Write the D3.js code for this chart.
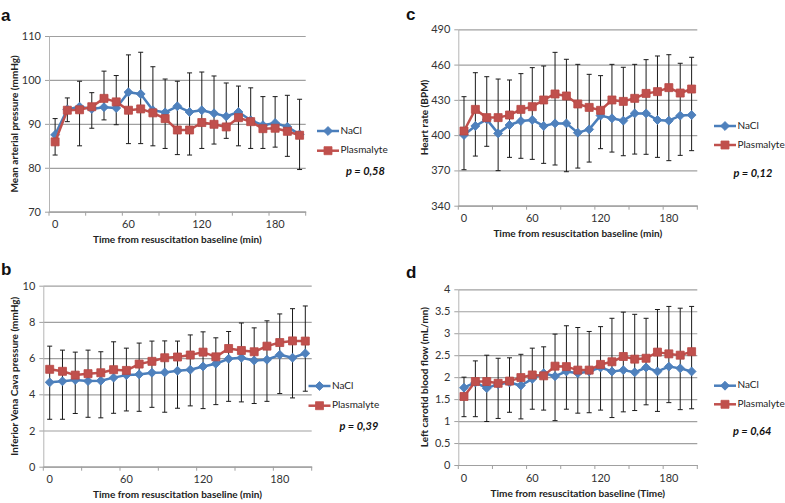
<!DOCTYPE html>
<html><head><meta charset="utf-8">
<script src="https://cdn.jsdelivr.net/npm/d3@7/dist/d3.min.js"></script>
<style>
html,body{margin:0;padding:0;background:#fff;}
svg{display:block;}
text{font-family:Lato,'Open Sans',sans-serif;}
</style></head><body>
<svg id="chart" width="785" height="503"></svg>
<script>
// ---- categories / ticks ----
const times = [0,10,20,30,40,50,60,70,80,90,100,110,120,130,140,150,160,170,180,190,200];
const xLabelTimes = [0,60,120,180];
const xTickTimes = [0,30,60,90,120,150,180];
const seriesNames = ["NaCl","Plasmalyte"];

// ---- panel a: mean arterial pressure ----
const mapNaCl   = [87.5,93.3,93.9,93.4,93.8,93.6,97.2,96.8,93.1,92.6,94.0,92.7,93.1,92.4,91.7,92.7,90.8,89.7,90.2,89.3,87.6];
const mapPlasma = [85.9,93.1,93.2,93.9,95.8,95.0,93.1,93.4,92.5,91.2,88.6,88.6,90.3,89.9,89.3,91.4,90.5,88.9,89.0,88.3,87.4];
const mapErrHigh= [91.2,95.9,99.7,97.1,102.0,101.0,105.7,106.3,103.0,100.2,99.7,101.6,101.8,100.9,99.3,98.6,98.2,96.2,96.2,96.5,95.6];
const mapErrLow = [82.9,90.5,85.0,89.0,90.9,89.8,85.5,85.5,85.0,84.4,83.0,82.9,84.4,85.4,86.7,85.0,84.4,84.4,84.7,82.6,79.6];
const mapTicks  = [70,80,90,100,110];

// ---- panel b: inferior vena cava pressure ----
const ivcNaCl   = [4.66,4.72,4.79,4.73,4.75,4.92,5.06,5.10,5.19,5.21,5.30,5.36,5.54,5.69,5.96,6.02,5.87,5.91,6.18,6.02,6.26];
const ivcPlasma = [5.38,5.27,5.06,5.14,5.19,5.36,5.32,5.67,5.82,6.02,6.06,6.17,6.33,6.07,6.53,6.42,6.35,6.66,6.86,6.95,6.94];
const ivcErrHigh= [6.66,6.44,6.33,6.44,6.35,6.90,6.55,6.83,6.94,6.95,6.94,7.28,7.45,7.12,7.47,7.94,7.67,8.06,8.44,8.73,8.88];
const ivcErrLow = [2.62,2.62,2.94,2.73,2.70,2.95,3.08,3.06,3.28,3.01,3.23,3.36,3.21,3.43,3.61,3.58,3.49,3.61,4.04,3.80,4.17];
const ivcTicks  = [0,2,4,6,8,10];

// ---- panel c: heart rate ----
const hrNaCl    = [400.1,407.8,413.4,401.5,408.6,412.0,412.9,407.8,410.0,410.0,402.1,404.9,416.6,414.3,412.3,418.5,418.5,412.9,412.3,416.6,417.1];
const hrPlasma  = [403.5,421.9,414.9,414.9,417.1,421.9,424.2,429.9,435.0,433.3,426.5,423.6,421.1,429.9,428.7,431.3,435.5,437.0,440.4,435.8,439.2];
const hrErrHigh = [432.7,453.1,449.7,447.7,446.9,452.3,457.4,458.8,470.4,464.5,460.2,451.7,450.6,460.2,457.7,460.2,464.2,467.3,468.4,461.1,466.2];
const hrErrLow  = [370.6,382.2,390.5,369.8,381.1,380.3,379.4,376.0,374.6,368.9,372.0,377.1,388.5,385.6,382.5,383.9,383.7,381.1,378.3,382.8,386.8];
const hrTicks   = [340,370,400,430,460,490];

// ---- panel d: left carotid blood flow ----
const cbfNaCl   = [1.76,1.88,1.75,1.84,1.88,1.81,1.96,2.09,2.02,2.13,2.09,2.13,2.22,2.13,2.16,2.11,2.22,2.13,2.24,2.20,2.13];
const cbfPlasma = [1.56,1.90,1.90,1.86,1.91,1.99,2.05,2.03,2.25,2.24,2.16,2.16,2.29,2.35,2.47,2.41,2.43,2.57,2.53,2.50,2.58];
const cbfErrHigh= [2.00,2.37,2.50,2.43,2.44,2.52,2.66,2.69,2.98,3.17,3.13,3.04,3.15,3.34,3.48,3.43,3.34,3.54,3.61,3.57,3.61];
const cbfErrLow = [1.10,1.10,0.99,1.06,1.20,1.05,1.27,1.25,1.01,1.27,1.18,1.19,1.25,1.08,1.21,1.24,1.37,1.22,1.42,1.26,1.28];
const cbfTicks  = [0,0.5,1,1.5,2,2.5,3,3.5,4];

const BLUE = "#4a7ebb", BLUE_M = "#4f81bd";
const RED = "#c0504d", RED_M = "#c0504d";

const svg = d3.select("#chart");

const panels = [
  {letter:"a", lx:1, ly:21, x0:49, x1:305.7, yTop:36, yBot:211.7, domain:[70,110], ticks:mapTicks,
   a:mapNaCl, b:mapPlasma, hi:mapErrHigh, lo:mapErrLow, ytitle:"Mean arterial pressure (mmHg)", ytx:15,
   xtitle:"Time from resuscitation baseline (min)", leg:{x:317, y1:131, y2:150.7}, p:{x:346, y:172, t:"p = 0,58"}},
  {letter:"b", lx:1, ly:275, x0:43.3, x1:311.7, yTop:285.7, yBot:466.7, domain:[0,10], ticks:ivcTicks,
   a:ivcNaCl, b:ivcPlasma, hi:ivcErrHigh, lo:ivcErrLow, ytitle:"Inferior Vena Cava pressure (mmHg)", ytx:15,
   xtitle:"Time from resuscitation baseline (min)", leg:{x:308.5, y1:386, y2:405.7}, p:{x:339.5, y:427.5, t:"p = 0,39"}},
  {letter:"c", lx:406, ly:20, x0:458.3, x1:697.3, yTop:29.3, yBot:205.7, domain:[340,490], ticks:hrTicks,
   a:hrNaCl, b:hrPlasma, hi:hrErrHigh, lo:hrErrLow, ytitle:"Heart rate (BPM)", ytx:425,
   xtitle:"Time from resuscitation baseline (min)", leg:{x:714, y1:126, y2:145}, p:{x:733.5, y:174.5, t:"p = 0,12"}},
  {letter:"d", lx:406, ly:278, x0:458.3, x1:697.3, yTop:289.3, yBot:465, domain:[0,4], ticks:cbfTicks,
   a:cbfNaCl, b:cbfPlasma, hi:cbfErrHigh, lo:cbfErrLow, ytitle:"Left carotid blood flow (mL/mn)", ytx:425,
   xtitle:"Time from resuscitation baseline (Time)", leg:{x:714, y1:385.7, y2:404.3}, p:{x:733, y:432.5, t:"p = 0,64"}}
];

const diamond = d3.symbol().type(d3.symbolSquare).size(40)();
const square = d3.symbol().type(d3.symbolSquare).size(64)();

function drawPanel(p){
  const g = svg.append("g");
  const x = d3.scaleBand().domain(times).range([p.x0, p.x1]).padding(0);
  const bw = x.bandwidth();
  const cx = t => x(t) + bw/2;
  const y = d3.scaleLinear().domain(p.domain).range([p.yBot, p.yTop]);
  const w = p.x1 - p.x0;

  // gridlines
  g.append("g").attr("transform", `translate(${p.x0},0)`)
    .call(d3.axisLeft(y).tickValues(p.ticks).tickSize(-w).tickFormat(""))
    .call(s => { s.select(".domain").remove();
      s.selectAll(".tick line").attr("stroke","#a0a0a0").attr("stroke-width",1.2); });

  // y axis
  g.append("g").attr("transform", `translate(${p.x0},0)`)
    .call(d3.axisLeft(y).tickValues(p.ticks).tickSize(4).tickSizeOuter(0).tickPadding(4).tickFormat(d => String(d)))
    .call(s => {
      s.select(".domain").attr("stroke","#b5b5b5").attr("stroke-width",1);
      s.selectAll(".tick line").attr("stroke","#a0a0a0");
      s.selectAll(".tick text").attr("fill","#333").style("font-size","11px").style("font-family","Lato");
    });

  // x axis (category band axis, labels at category centres)
  g.append("g").attr("transform", `translate(0,${p.yBot})`)
    .call(d3.axisBottom(x).tickValues(xLabelTimes).tickSize(0).tickPadding(9).tickFormat(d => String(d)))
    .call(s => {
      s.select(".domain").attr("stroke","#a0a0a0").attr("stroke-width",1.2);
      s.selectAll(".tick text").attr("fill","#333").style("font-size","11px").style("font-family","Lato");
    });
  // x tick marks on category boundaries
  g.append("g").selectAll("line").data(xTickTimes.map(t => x(t)).concat([p.x1]))
    .join("line")
    .attr("x1", d => d).attr("x2", d => d)
    .attr("y1", p.yBot).attr("y2", p.yBot + 4)
    .attr("stroke","#a0a0a0").attr("stroke-width",1);

  // error bars
  const eb = g.append("g").attr("stroke","#1a1a1a").attr("stroke-width",1);
  times.forEach((t,i) => {
    const xc = cx(t), yh = y(p.hi[i]), yl = y(p.lo[i]);
    eb.append("line").attr("x1",xc).attr("x2",xc).attr("y1",yh).attr("y2",yl);
    eb.append("line").attr("x1",xc-2.5).attr("x2",xc+2.5).attr("y1",yh).attr("y2",yh);
    eb.append("line").attr("x1",xc-2.5).attr("x2",xc+2.5).attr("y1",yl).attr("y2",yl);
  });

  const line = d3.line().x((d,i) => cx(times[i])).y(d => y(d));
  // NaCl
  g.append("path").datum(p.a).attr("d", line).attr("fill","none")
    .attr("stroke",BLUE).attr("stroke-width",2.5).attr("stroke-linejoin","round");
  g.append("g").selectAll("path").data(p.a).join("path")
    .attr("d", diamond)
    .attr("transform",(d,i) => `translate(${cx(times[i])},${y(d)}) rotate(45)`)
    .attr("fill",BLUE_M).attr("stroke",BLUE).attr("stroke-width",0.8);
  // Plasmalyte
  g.append("path").datum(p.b).attr("d", line).attr("fill","none")
    .attr("stroke",RED).attr("stroke-width",2.5).attr("stroke-linejoin","round");
  g.append("g").selectAll("path").data(p.b).join("path")
    .attr("d", square)
    .attr("transform",(d,i) => `translate(${cx(times[i])},${y(d)})`)
    .attr("fill",RED_M).attr("stroke","#b84844").attr("stroke-width",0.8);

  // titles
  g.append("text").attr("x", (p.x0+p.x1)/2).attr("y", p.yBot + 29)
    .attr("text-anchor","middle").attr("dominant-baseline","middle")
    .style("font-size","10px").style("font-weight","bold").attr("fill","#222").text(p.xtitle);
  g.append("text").attr("transform", `translate(${p.ytx},${(p.yTop+p.yBot)/2}) rotate(-90)`)
    .attr("text-anchor","middle").attr("dominant-baseline","middle")
    .style("font-size","10px").style("font-weight","bold").attr("fill","#222").text(p.ytitle);

  // panel letter
  g.append("text").attr("x", p.lx).attr("y", p.ly)
    .style("font-family","'Liberation Sans',Arial,sans-serif").style("font-size","17px").style("font-weight","bold")
    .attr("fill","#111").text(p.letter);

  // legend
  const L = p.leg;
  [[L.y1, BLUE, BLUE_M, diamond, true],[L.y2, RED, RED_M, square, false]].forEach((r,k) => {
    const [ly, c, cm, sym, rot] = r;
    g.append("line").attr("x1",L.x).attr("x2",L.x+22).attr("y1",ly).attr("y2",ly)
      .attr("stroke",c).attr("stroke-width",2.5);
    g.append("path").attr("d",sym)
      .attr("transform",`translate(${L.x+11},${ly})` + (rot ? " rotate(45)" : ""))
      .attr("fill",cm).attr("stroke",c).attr("stroke-width",0.8);
    g.append("text").attr("x",L.x+23.5).attr("y",ly).attr("dominant-baseline","middle")
      .style("font-size","10px").attr("fill","#222").text(seriesNames[k]);
  });

  g.append("text").attr("x",p.p.x).attr("y",p.p.y).attr("dominant-baseline","middle")
    .style("font-size","11px").style("font-weight","bold").style("font-style","italic")
    .attr("fill","#111").text(p.p.t);
}

panels.forEach(drawPanel);
</script>
</body></html>
